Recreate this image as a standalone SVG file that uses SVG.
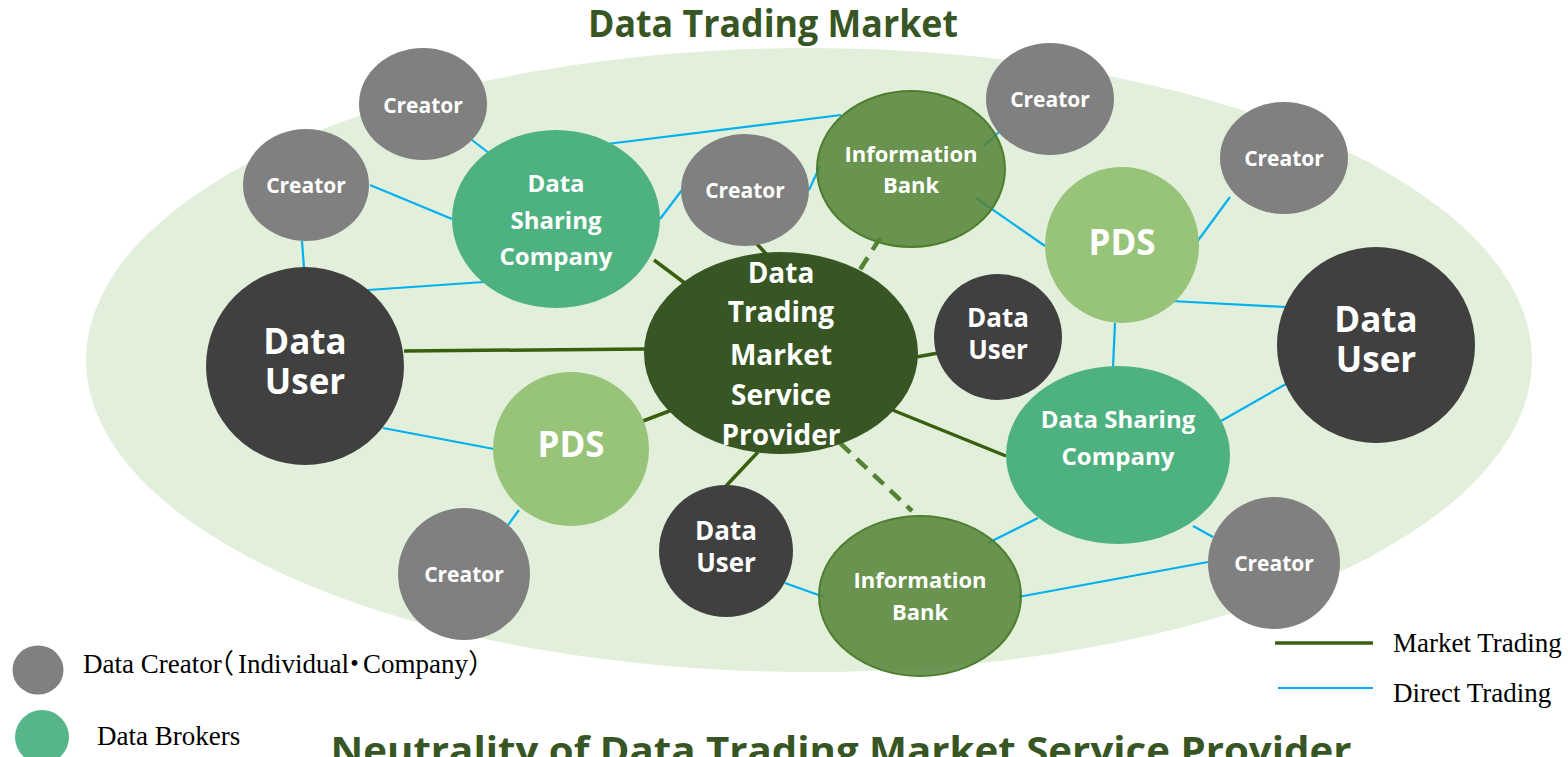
<svg xmlns="http://www.w3.org/2000/svg" width="1568" height="757" viewBox="0 0 1568 757">
<style>
.lbl{font-family:"Open Sans","Noto Sans",sans-serif;font-weight:bold;fill:#fff;text-anchor:middle}
.d{stroke:#00B0F0;stroke-width:2.2;fill:none}
.m{stroke:#375F0C;stroke-width:3.5;fill:none}
.dash{stroke:#548235;stroke-width:4.5;stroke-dasharray:14 9;fill:none}
.cr{fill:#808080}
.du{fill:#404040}
.dsc{fill:#4EB180}
.pds{fill:#98C47A}
.ib{fill:#548235;fill-opacity:0.85;stroke:#4E7F2E;stroke-width:2}
.leg{font-family:"Liberation Serif","Noto Sans CJK JP",serif;font-size:27px;fill:#000}
.title{font-family:"Open Sans","Noto Sans",sans-serif;font-weight:bold;fill:#375623}
</style>
<rect width="1568" height="757" fill="#fff"/>
<ellipse cx="809" cy="360" rx="723" ry="312" fill="#E2EFDA"/>
<text class="title" x="773" y="37" font-size="37" text-anchor="middle" textLength="370" lengthAdjust="spacingAndGlyphs">Data Trading Market</text>
<g id="connectors">
<line class="d" x1="472" y1="140" x2="494" y2="157"/>
<line class="d" x1="370" y1="185" x2="452" y2="219"/>
<line class="d" x1="302" y1="241" x2="304" y2="268"/>
<line class="d" x1="368" y1="290" x2="484" y2="282"/>
<line class="d" x1="607" y1="144" x2="841" y2="115"/>
<line class="d" x1="660" y1="219" x2="682" y2="190"/>
<line class="d" x1="809" y1="190" x2="820" y2="166"/>
<line class="d" x1="984" y1="146" x2="1000" y2="131"/>
<line class="d" x1="976" y1="198" x2="1045" y2="246"/>
<line class="d" x1="1194" y1="246" x2="1230" y2="197"/>
<line class="d" x1="1171" y1="301" x2="1285" y2="307"/>
<line class="d" x1="1115" y1="323" x2="1113" y2="367"/>
<line class="d" x1="1221" y1="421" x2="1286" y2="384"/>
<line class="d" x1="1038" y1="518" x2="988" y2="543"/>
<line class="d" x1="1193" y1="526" x2="1213" y2="537"/>
<line class="d" x1="1018" y1="597" x2="1208" y2="562"/>
<line class="d" x1="383" y1="428" x2="494" y2="449"/>
<line class="d" x1="519" y1="510" x2="508" y2="525"/>
<line class="d" x1="785" y1="583" x2="824" y2="597"/>
<line class="m" x1="404" y1="351" x2="646" y2="349"/>
<line class="m" x1="654" y1="260" x2="686" y2="284"/>
<line class="m" x1="757" y1="244" x2="768" y2="256"/>
<line class="m" x1="916" y1="357" x2="944" y2="352"/>
<line class="m" x1="890" y1="409" x2="1006" y2="456"/>
<line class="m" x1="643" y1="421" x2="672" y2="410"/>
<line class="m" x1="726" y1="486" x2="758" y2="452"/>
<line class="dash" x1="880" y1="238" x2="856" y2="276"/>
<line class="dash" x1="840" y1="443" x2="912" y2="511"/>
</g>
<g id="creator1"><ellipse class="cr" cx="423" cy="104" rx="64" ry="56"/><text class="lbl" x="423" y="113" font-size="21">Creator</text></g>
<g id="creator2"><ellipse class="cr" cx="306" cy="185" rx="63" ry="56"/><text class="lbl" x="306" y="193" font-size="21">Creator</text></g>
<g id="dsc-left"><ellipse class="dsc" cx="556" cy="219" rx="104" ry="89"/>
<text class="lbl" x="556" y="192" font-size="24">Data</text><text class="lbl" x="556" y="229" font-size="24">Sharing</text><text class="lbl" x="556" y="265" font-size="24">Company</text></g>
<g id="creator3"><ellipse class="cr" cx="745" cy="190" rx="64" ry="56"/><text class="lbl" x="745" y="198" font-size="21">Creator</text></g>
<g id="infobank-top"><ellipse class="ib" cx="911" cy="169" rx="94" ry="78"/>
<text class="lbl" x="911" y="162" font-size="22">Information</text><text class="lbl" x="911" y="193" font-size="22">Bank</text></g>
<g id="creator4"><ellipse class="cr" cx="1050" cy="99" rx="64" ry="56"/><text class="lbl" x="1050" y="107" font-size="21">Creator</text></g>
<g id="creator5"><ellipse class="cr" cx="1284" cy="158" rx="64" ry="56"/><text class="lbl" x="1284" y="166" font-size="21">Creator</text></g>
<g id="pds-right"><ellipse class="pds" cx="1122" cy="245" rx="77" ry="78"/><text class="lbl" x="1122" y="255" font-size="35">PDS</text></g>
<g id="datauser-left"><ellipse class="du" cx="305" cy="366" rx="99" ry="99"/>
<text class="lbl" x="305" y="354" font-size="35">Data</text><text class="lbl" x="305" y="394" font-size="35">User</text></g>
<g id="provider"><ellipse fill="#375623" cx="781" cy="353" rx="137" ry="101"/>
<text class="lbl" x="781" y="283" font-size="28">Data</text>
<text class="lbl" x="781" y="322" font-size="28">Trading</text>
<text class="lbl" x="781" y="365" font-size="28">Market</text>
<text class="lbl" x="781" y="405" font-size="28">Service</text>
<text class="lbl" x="781" y="445" font-size="28">Provider</text></g>
<g id="datauser-mid"><ellipse class="du" cx="998" cy="337" rx="64" ry="63"/>
<text class="lbl" x="998" y="327" font-size="26">Data</text><text class="lbl" x="998" y="359" font-size="26">User</text></g>
<g id="datauser-right"><ellipse class="du" cx="1376" cy="345" rx="99" ry="98"/>
<text class="lbl" x="1376" y="332" font-size="35">Data</text><text class="lbl" x="1376" y="372" font-size="35">User</text></g>
<g id="pds-left"><ellipse class="pds" cx="571" cy="449" rx="78" ry="77"/><text class="lbl" x="571" y="457" font-size="35">PDS</text></g>
<g id="dsc-right"><ellipse class="dsc" cx="1118" cy="455" rx="112" ry="89"/>
<text class="lbl" x="1118" y="428" font-size="24">Data Sharing</text><text class="lbl" x="1118" y="465" font-size="24">Company</text></g>
<g id="creator6"><ellipse class="cr" cx="464" cy="574" rx="66" ry="66"/><text class="lbl" x="464" y="582" font-size="21">Creator</text></g>
<g id="datauser-bottom"><ellipse class="du" cx="726" cy="551" rx="67" ry="66"/>
<text class="lbl" x="726" y="540" font-size="26">Data</text><text class="lbl" x="726" y="572" font-size="26">User</text></g>
<g id="infobank-bottom"><ellipse class="ib" cx="920" cy="596" rx="101" ry="80"/>
<text class="lbl" x="920" y="588" font-size="22">Information</text><text class="lbl" x="920" y="620" font-size="22">Bank</text></g>
<g id="creator7"><ellipse class="cr" cx="1274" cy="563" rx="66" ry="66"/><text class="lbl" x="1274" y="571" font-size="21">Creator</text></g>
<g id="legend">
<ellipse fill="#808080" cx="38" cy="670" rx="25.5" ry="24.5"/>
<text class="leg" y="673"><tspan x="83">Data Creator</tspan><tspan x="207">（</tspan><tspan x="238">Individual</tspan><tspan x="341">・</tspan><tspan x="363">Company</tspan><tspan x="468">）</tspan></text>
<ellipse fill="#56B68A" cx="42" cy="737" rx="27" ry="27"/>
<text class="leg" x="97" y="745">Data Brokers</text>
<line x1="1275" y1="643" x2="1373" y2="643" stroke="#375F0C" stroke-width="3.5"/>
<text class="leg" x="1393" y="652">Market Trading</text>
<line x1="1278" y1="688" x2="1373" y2="688" stroke="#00B0F0" stroke-width="2.2"/>
<text class="leg" x="1393" y="702">Direct Trading</text>
</g>
<text class="title" x="841" y="764" font-size="37" text-anchor="middle" textLength="1021" lengthAdjust="spacingAndGlyphs">Neutrality of Data Trading Market Service Provider</text>
</svg>
